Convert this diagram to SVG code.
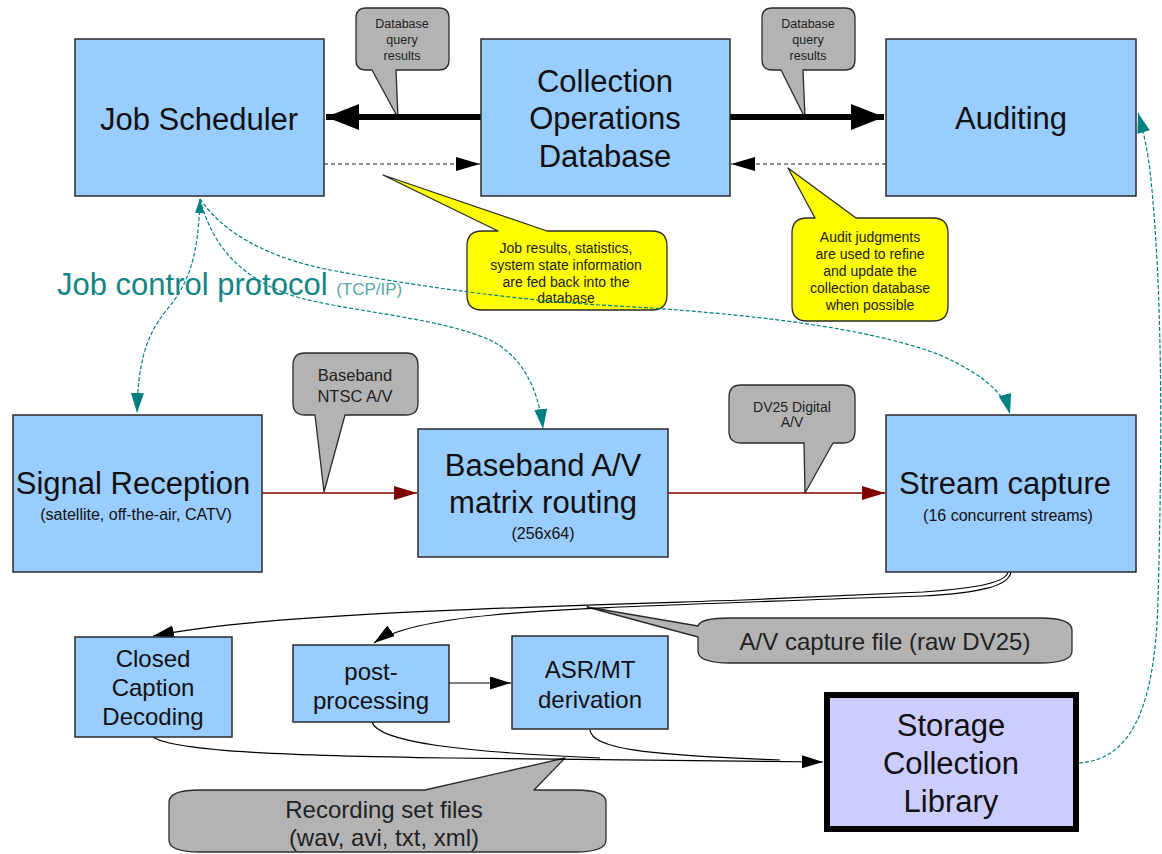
<svg xmlns="http://www.w3.org/2000/svg" width="1162" height="854" viewBox="0 0 1162 854">
<defs>
<style>
.box{fill:#99ccff;stroke:#2b2b2b;stroke-width:1.5}
.lib{fill:#ccccff;stroke:#000;stroke-width:6}
.t{font-family:"Liberation Sans",Arial,sans-serif;fill:#111;text-anchor:middle}
.big{font-size:31px}
.mid{font-size:24px}
.sub{font-size:16px}
.gray{fill:#b3b3b3;stroke:#2b2b2b;stroke-width:1.3;stroke-linejoin:round}
.yel{fill:#ffff00;stroke:#2b2b2b;stroke-width:1.3;stroke-linejoin:round}
.ct{font-family:"Liberation Sans",Arial,sans-serif;fill:#222;text-anchor:middle}
.teal{fill:none;stroke:#008080;stroke-width:1.2;stroke-dasharray:4 2}
.thick{fill:none;stroke:#000;stroke-width:6}
.dash{fill:none;stroke:#222;stroke-width:1.2;stroke-dasharray:4 3}
.red{fill:none;stroke:#800000;stroke-width:1.4}
.thin{fill:none;stroke:#000;stroke-width:1.2}
</style>
<marker id="aBig" markerUnits="userSpaceOnUse" markerWidth="34" markerHeight="28" refX="33" refY="13" orient="auto"><path d="M0,0 L33,13 L0,26 Z" fill="#000"/></marker>
<marker id="aDash" markerUnits="userSpaceOnUse" markerWidth="26" markerHeight="16" refX="24" refY="7" orient="auto"><path d="M0,0 L24,7 L0,14 Z" fill="#000"/></marker>
<marker id="aRed" markerUnits="userSpaceOnUse" markerWidth="26" markerHeight="16" refX="23" refY="7" orient="auto"><path d="M0,0 L23,7 L0,14 Z" fill="#800000"/></marker>
<marker id="aBlk" markerUnits="userSpaceOnUse" markerWidth="24" markerHeight="16" refX="21" refY="6.5" orient="auto"><path d="M0,0 L21,6.5 L0,13 Z" fill="#000"/></marker>
<marker id="aTeal" markerUnits="userSpaceOnUse" markerWidth="22" markerHeight="16" refX="20" refY="6.5" orient="auto"><path d="M0,0 L20,6.5 L0,13 Z" fill="#008080"/></marker>
<marker id="aTealS" markerUnits="userSpaceOnUse" markerWidth="16" markerHeight="12" refX="0" refY="4.5" orient="auto"><path d="M0,4.5 L14,0 L14,9 Z" fill="#008080"/></marker>
</defs>
<rect width="1162" height="854" fill="#fff"/>

<g id="callouts">
<g id="callout-dbq1">
<path class="gray" d="M366,8 H439 Q449,8 449,18 V60 Q449,70 439,70 H396 L398,118 L372,70 H366 Q356,70 356,60 V18 Q356,8 366,8 Z"/>
<text class="ct" font-size="12.5"><tspan x="402" y="28">Database</tspan><tspan x="402" y="44">query</tspan><tspan x="402" y="60">results</tspan></text>
</g>
<g id="callout-dbq2">
<path class="gray" d="M772,8 H845 Q855,8 855,18 V60 Q855,70 845,70 H803 L805,118 L781,70 H772 Q762,70 762,60 V18 Q762,8 772,8 Z"/>
<text class="ct" font-size="12.5"><tspan x="808" y="28">Database</tspan><tspan x="808" y="44">query</tspan><tspan x="808" y="60">results</tspan></text>
</g>
<g id="callout-jobresults">
<path class="yel" d="M482,231 H498 L383,175 L547,231 H652 Q667,231 667,246 V295 Q667,310 652,310 H482 Q467,310 467,295 V246 Q467,231 482,231 Z"/>
<text class="ct" font-size="14"><tspan x="566" y="253">Job results, statistics,</tspan><tspan x="566" y="270">system state information</tspan><tspan x="566" y="287">are fed back into the</tspan><tspan x="566" y="303">database</tspan></text>
</g>
<g id="callout-audit">
<path class="yel" d="M807,218 H815 L788,168 L856,218 H933 Q948,218 948,233 V306 Q948,321 933,321 H807 Q792,321 792,306 V233 Q792,218 807,218 Z"/>
<text class="ct" font-size="14"><tspan x="870" y="242">Audit judgments</tspan><tspan x="870" y="259">are used to refine</tspan><tspan x="870" y="276">and update the</tspan><tspan x="870" y="293">collection database</tspan><tspan x="870" y="310">when possible</tspan></text>
</g>
<g id="callout-ntsc">
<path class="gray" d="M305,353 H406 Q418,353 418,365 V403 Q418,415 406,415 H345 L324,492 L315,415 H305 Q293,415 293,403 V365 Q293,353 305,353 Z"/>
<text class="ct" font-size="16.5"><tspan x="355" y="381">Baseband</tspan><tspan x="355" y="402">NTSC A/V</tspan></text>
</g>
<g id="callout-dv25">
<path class="gray" d="M741,385 H843 Q855,385 855,397 V431 Q855,443 843,443 H833 L805,493 L804,443 H741 Q729,443 729,431 V397 Q729,385 741,385 Z"/>
<text class="ct" font-size="14"><tspan x="792" y="412">DV25 Digital</tspan><tspan x="792" y="427">A/V</tspan></text>
</g>
<g id="callout-avfile">
<path class="gray" d="M698,637 L587,607 L698,626 Q700,618 730,618 H1040 Q1072,618 1072,630 V651 Q1072,663 1040,663 H730 Q698,663 698,651 Z"/>
<text class="ct" font-size="24" x="885" y="650">A/V capture file (raw DV25)</text>
</g>
<g id="callout-recording">
<path class="gray" d="M169,802 Q169,790 200,790 H425 L565,758 L534,790 H575 Q606,790 606,802 V840 Q606,852 575,852 H200 Q169,852 169,840 Z"/>
<text class="ct" font-size="24"><tspan x="384" y="818">Recording set files</tspan><tspan x="384" y="846">(wav, avi, txt, xml)</tspan></text>
</g>
</g>

<g id="connectors">
<path class="thick" d="M481,117 H326" marker-end="url(#aBig)"/>
<path class="thick" d="M729,117 H884" marker-end="url(#aBig)"/>
<path class="dash" d="M324,164 H480" marker-end="url(#aDash)"/>
<path class="dash" d="M886,164 H731" marker-end="url(#aDash)"/>
<path class="teal" d="M200,199 C198,260 188,285 165,312 C143,340 138,370 137,413" marker-start="url(#aTealS)" marker-end="url(#aTeal)"/>
<path class="teal" d="M200,199 C212,245 240,280 300,298 C360,313 440,318 490,340 C520,355 538,385 543,429" marker-end="url(#aTeal)"/>
<path class="teal" d="M200,199 C225,235 270,258 330,270 C420,287 520,300 600,305 C750,313 870,328 940,355 C985,375 1005,395 1010,414" marker-end="url(#aTeal)"/>
<path class="teal" d="M1079,763 C1125,760 1155,720 1158,600 C1162,450 1163,300 1151,180 C1148,150 1143,130 1138,113" marker-end="url(#aTeal)"/>
<path class="red" d="M262,493 H417" marker-end="url(#aRed)"/>
<path class="red" d="M668,493 H885" marker-end="url(#aRed)"/>
<path class="thin" d="M1008,572 C1006,582 980,588 923,592 L743,600 C500,608 260,614 153,636" marker-end="url(#aBlk)"/>
<path class="thin" d="M1011,572 C1009,586 980,593 923,596 L860,598 C700,604 560,608 493,615 C440,620 395,628 374,643" marker-end="url(#aBlk)"/>
<path class="thin" d="M449,683 H511" marker-end="url(#aBlk)"/>
<path class="thin" d="M153,737 C175,752 300,756 450,758 L823,762" marker-end="url(#aBlk)"/>
<path class="thin" d="M372,722 C378,742 460,752 600,758"/>
<path class="thin" d="M590,730 C592,748 640,755 780,760"/>
</g>

<g id="node-jobscheduler">
<rect class="box" x="75" y="39" width="249" height="157"/>
<text class="t big" x="199" y="130">Job Scheduler</text>
</g>
<g id="node-collectiondb">
<rect class="box" x="481" y="39" width="249" height="157"/>
<text class="t big"><tspan x="605" y="92">Collection</tspan><tspan x="605" y="129">Operations</tspan><tspan x="605" y="167">Database</tspan></text>
</g>
<g id="node-auditing">
<rect class="box" x="886" y="39" width="250" height="157"/>
<text class="t big" x="1011" y="129">Auditing</text>
</g>
<g id="label-jcp">
<text font-family="Liberation Sans, Arial, sans-serif" x="57" y="295"><tspan font-size="31" fill="#138585">Job control protocol </tspan><tspan font-size="17" fill="#5aa7a7">(TCP/IP)</tspan></text>
</g>
<g id="node-signal">
<rect class="box" x="13" y="415" width="249" height="157"/>
<text class="t big" x="133" y="494">Signal Reception</text>
<text class="t sub" x="136" y="520">(satellite, off-the-air, CATV)</text>
</g>
<g id="node-baseband">
<rect class="box" x="418" y="429" width="250" height="128"/>
<text class="t big"><tspan x="543" y="476">Baseband A/V</tspan><tspan x="543" y="513">matrix routing</tspan></text>
<text class="t sub" x="543" y="539">(256x64)</text>
</g>
<g id="node-stream">
<rect class="box" x="886" y="415" width="250" height="157"/>
<text class="t big" x="1005" y="494">Stream capture</text>
<text class="t sub" x="1008" y="521">(16 concurrent streams)</text>
</g>
<g id="node-cc">
<rect class="box" x="75" y="637" width="157" height="100"/>
<text class="t mid"><tspan x="153" y="667">Closed</tspan><tspan x="153" y="696">Caption</tspan><tspan x="153" y="725">Decoding</tspan></text>
</g>
<g id="node-post">
<rect class="box" x="293" y="645" width="156" height="77"/>
<text class="t mid"><tspan x="371" y="680">post-</tspan><tspan x="371" y="709">processing</tspan></text>
</g>
<g id="node-asr">
<rect class="box" x="512" y="636" width="156" height="93"/>
<text class="t mid"><tspan x="590" y="678">ASR/MT</tspan><tspan x="590" y="708">derivation</tspan></text>
</g>
<g id="node-storage">
<rect class="lib" x="827" y="695" width="249" height="134"/>
<text class="t big"><tspan x="951" y="736">Storage</tspan><tspan x="951" y="774">Collection</tspan><tspan x="951" y="812">Library</tspan></text>
</g>
</svg>
